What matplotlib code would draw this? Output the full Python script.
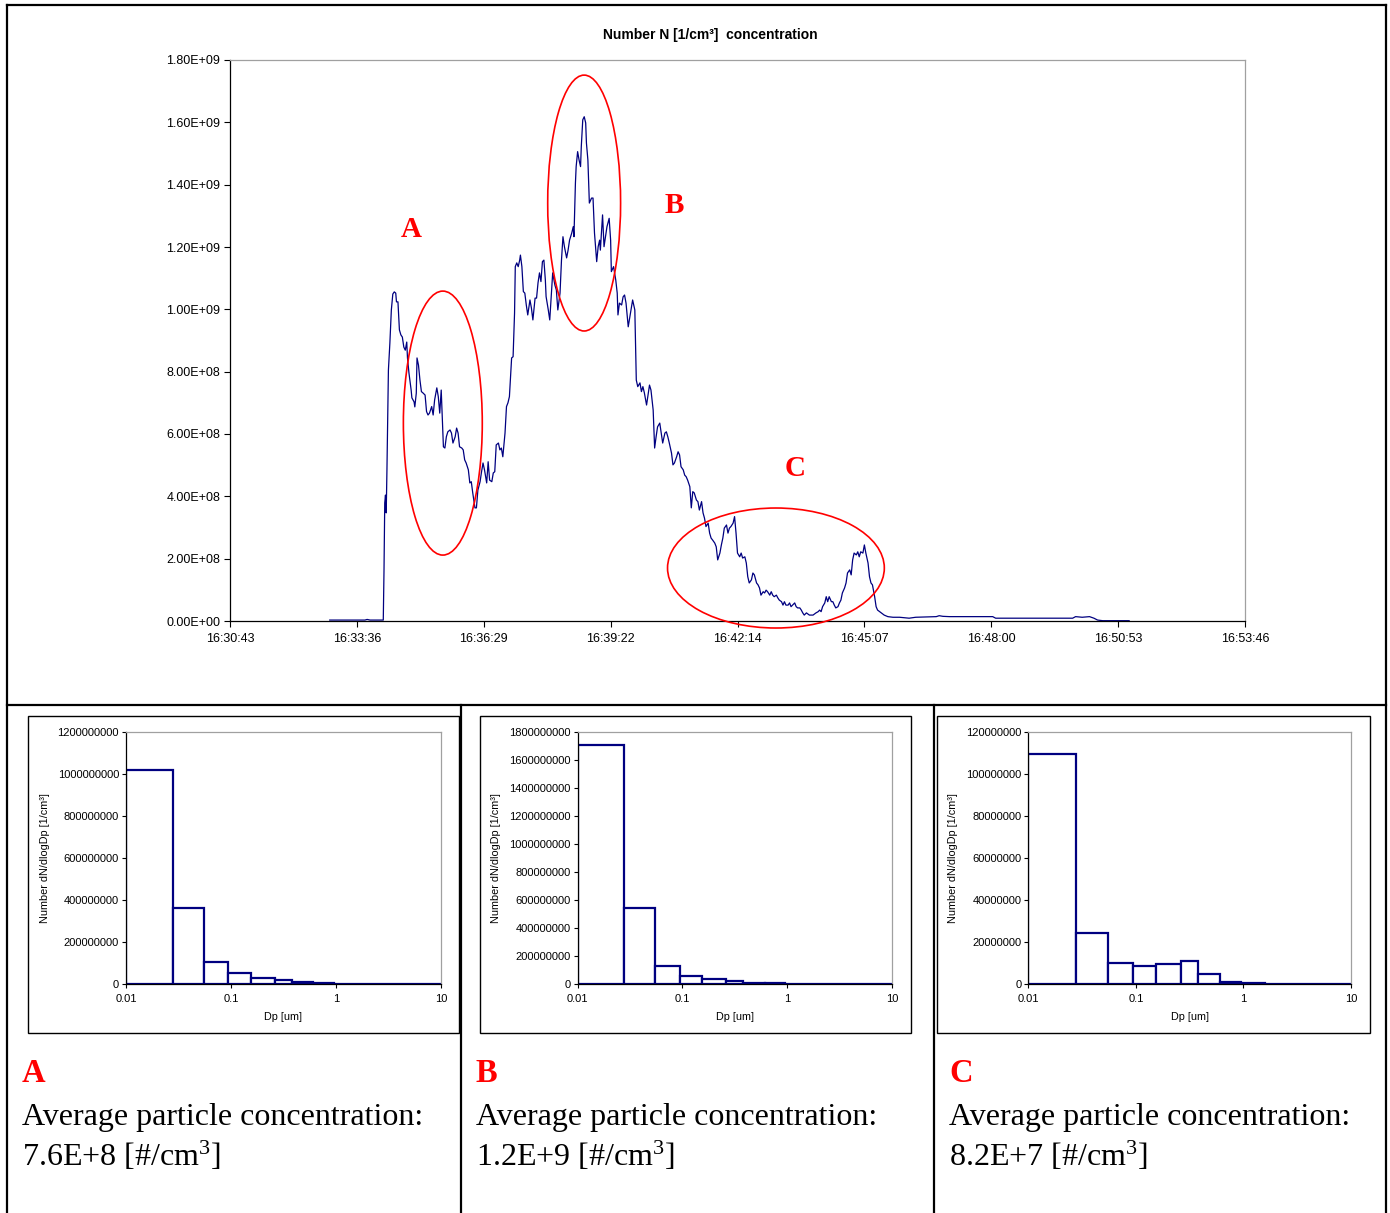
import matplotlib
matplotlib.use("Agg")
import matplotlib.pyplot as plt
import numpy as np
from matplotlib.patches import Ellipse, Rectangle
from matplotlib.lines import Line2D
from matplotlib.ticker import NullLocator

plt.rcParams['font.family'] = ['Liberation Sans', 'DejaVu Sans']
plt.rcParams['mathtext.fontset'] = 'custom'
plt.rcParams['mathtext.rm'] = 'Liberation Serif'
plt.rcParams['mathtext.it'] = 'Liberation Serif:italic'
plt.rcParams['mathtext.bf'] = 'Liberation Serif:bold'

# ---------------- data ----------------
# time in seconds after 16:30:43, concentration in units of 1E+08 1/cm3
time_s = [136, 177, 184, 187, 191, 207, 209, 210, 211, 212, 213, 214, 216, 218, 220, 222, 224, 226, 227, 229,
          231, 233, 235, 237, 239, 241, 242, 244, 247, 248, 251, 252, 254, 255, 257, 259, 261, 263, 266, 268,
          270, 272, 275, 277, 279, 282, 284, 286, 288, 291, 293, 295, 297, 300, 302, 304, 307, 309, 311, 313,
          316, 318, 320, 322, 325, 327, 329, 331, 334, 336, 338, 341, 343, 345, 347, 350, 352, 354, 357, 359,
          361, 363, 366, 368, 370, 372, 375, 377, 379, 381, 384, 386, 388, 389, 391, 393, 395, 396, 398, 400,
          402, 404, 406, 409, 411, 413, 416, 418, 420, 422, 424, 426, 428, 430, 431, 434, 436, 438, 440, 443,
          445, 447, 450, 452, 454, 456, 459, 461, 463, 466, 468, 469, 471, 472, 474, 476, 478, 479, 481, 483,
          485, 486, 488, 490, 493, 495, 497, 500, 502, 504, 505, 508, 510, 512, 514, 517, 519, 520, 523, 526,
          528, 529, 531, 534, 536, 538, 540, 543, 545, 547, 549, 552, 554, 556, 559, 561, 563, 565, 568, 570,
          572, 574, 577, 579, 581, 583, 586, 588, 590, 593, 595, 597, 599, 602, 604, 606, 609, 611, 613, 615,
          618, 620, 622, 624, 627, 629, 631, 633, 636, 638, 640, 643, 645, 647, 649, 652, 654, 656, 658, 661,
          663, 665, 668, 670, 672, 674, 677, 679, 681, 683, 686, 688, 690, 692, 695, 697, 699, 702, 704, 706,
          708, 711, 713, 715, 718, 720, 722, 724, 727, 729, 731, 733, 736, 738, 740, 742, 745, 747, 749, 752,
          754, 756, 758, 761, 763, 765, 767, 770, 772, 774, 777, 779, 781, 783, 786, 790, 795, 799, 802, 804,
          806, 808, 811, 813, 815, 817, 820, 822, 824, 826, 829, 831, 833, 835, 838, 840, 842, 845, 847, 849,
          851, 854, 856, 858, 860, 863, 865, 867, 870, 872, 874, 876, 879, 881, 883, 888, 892, 897, 904, 913,
          926, 935, 963, 967, 972, 981, 1040, 1044, 1149, 1153, 1162, 1172, 1178, 1183, 1190, 1226]
conc_e8 = [0.03, 0.03, 0.03, 0.05, 0.03, 0.03, 0.03, 1.64, 3.79, 4.04, 3.47, 4.85, 8.05, 8.92, 9.98, 10.49, 10.56, 10.52, 10.24, 10.24,
           9.34, 9.18, 9.11, 8.79, 8.69, 8.95, 8.44, 7.96, 7.41, 7.16, 7.03, 6.87, 7.31, 8.44, 8.21, 7.73, 7.36, 7.32, 7.25, 6.72,
           6.61, 6.67, 6.88, 6.61, 7.09, 7.48, 7.20, 6.67, 7.41, 5.59, 5.55, 5.91, 6.07, 6.13, 6.03, 5.71, 5.91, 6.19, 6.03, 5.59,
           5.55, 5.49, 5.17, 5.07, 4.85, 4.43, 4.47, 4.11, 3.63, 3.63, 4.20, 4.47, 4.79, 5.07, 4.85, 4.43, 5.11, 4.52, 4.47, 4.75,
           4.79, 5.65, 5.71, 5.49, 5.55, 5.27, 6.03, 6.88, 7.00, 7.20, 8.44, 8.48, 9.88, 11.37, 11.49, 11.37, 11.58, 11.74, 11.37, 10.57,
           10.52, 10.14, 9.82, 10.30, 10.04, 9.66, 10.36, 10.36, 10.85, 11.17, 10.89, 11.53, 11.58, 10.94, 10.41, 9.98, 9.66, 10.41, 11.17, 10.78,
           10.62, 9.98, 10.52, 11.58, 12.33, 12.01, 11.65, 11.90, 12.22, 12.45, 12.65, 12.33, 14.05, 14.58, 15.06, 14.79, 14.58, 15.22, 16.08, 16.18,
           15.98, 15.34, 14.79, 13.41, 13.57, 13.57, 12.45, 11.53, 12.01, 12.22, 11.90, 13.03, 12.01, 12.33, 12.65, 12.92, 12.22, 11.21, 11.37, 10.94,
           10.52, 9.82, 10.20, 10.14, 10.40, 10.46, 10.20, 9.44, 9.72, 9.98, 10.30, 9.98, 7.73, 7.52, 7.64, 7.36, 7.52, 7.32, 6.93, 7.25,
           7.57, 7.41, 6.77, 5.55, 5.91, 6.23, 6.35, 6.03, 5.71, 6.03, 6.07, 5.91, 5.71, 5.39, 5.01, 5.07, 5.27, 5.43, 5.33, 4.95,
           4.85, 4.68, 4.63, 4.52, 4.31, 3.63, 4.15, 4.11, 3.88, 3.83, 3.56, 3.83, 3.47, 3.30, 3.03, 3.14, 2.82, 2.66, 2.60, 2.50,
           2.38, 1.96, 2.18, 2.44, 2.66, 2.98, 3.08, 2.82, 2.98, 3.03, 3.14, 3.35, 2.82, 2.18, 2.06, 2.18, 2.02, 2.06, 1.86, 1.42,
           1.22, 1.32, 1.54, 1.48, 1.22, 1.16, 1.06, 0.83, 0.94, 0.90, 0.99, 0.94, 0.83, 0.94, 0.83, 0.78, 0.83, 0.74, 0.67, 0.62,
           0.51, 0.62, 0.51, 0.51, 0.58, 0.46, 0.51, 0.58, 0.46, 0.42, 0.42, 0.35, 0.26, 0.19, 0.26, 0.19, 0.19, 0.26, 0.30, 0.35,
           0.30, 0.46, 0.58, 0.78, 0.62, 0.78, 0.62, 0.62, 0.51, 0.42, 0.46, 0.58, 0.67, 0.90, 1.06, 1.22, 1.54, 1.64, 1.48, 1.96,
           2.18, 2.12, 2.22, 2.06, 2.22, 2.18, 2.44, 2.18, 1.86, 1.42, 1.22, 1.16, 0.78, 0.46, 0.35, 0.26, 0.19, 0.14, 0.12, 0.12,
           0.09, 0.12, 0.14, 0.17, 0.15, 0.14, 0.14, 0.09, 0.09, 0.14, 0.12, 0.14, 0.09, 0.03, 0.01, 0.01]

time_tick_labels = ["16:30:43", "16:33:36", "16:36:29", "16:39:22", "16:42:14",
                    "16:45:07", "16:48:00", "16:50:53", "16:53:46"]
tick_step_s = 173

# ELPI size bins (um) and dN/dlogDp for the three periods
bin_edges = [0.01, 0.028, 0.055, 0.094, 0.155, 0.26, 0.38, 0.61, 0.95, 1.6, 2.4, 4.0, 6.7, 10.0]
dist_A = [1.02e9, 3.62e8, 1.06e8, 5.3e7, 2.8e7, 1.8e7, 9e6, 5e6, 1.5e6, 5e5, 2e5, 1e5, 5e4]
dist_B = [1.71e9, 5.4e8, 1.31e8, 6.0e7, 3.3e7, 2.3e7, 1.0e7, 5e6, 1.5e6, 5e5, 2e5, 1e5, 5e4]
dist_C = [1.095e8, 2.43e7, 1.02e7, 8.6e6, 9.5e6, 1.1e7, 4.9e6, 1.1e6, 5e5, 1e5, 5e4, 2e4, 1e4]
ymax_A, ystep_A = 1.2e9, 2e8
ymax_B, ystep_B = 1.8e9, 2e8
ymax_C, ystep_C = 1.2e8, 2e7

period_labels = ["A", "B", "C"]
avg_conc = ["7.6E+8", "1.2E+9", "8.2E+7"]

# ---------------- figure ----------------
W, H = 1390, 1213
fig = plt.figure(figsize=(W / 100, H / 100), dpi=100)


def fx(px):
    return px / W


def fy(py):
    return 1 - py / H


NAVY = '#000080'
GRAY = '#a0a0a0'

# table borders
lw_tab = 1.6
for xs, ys in [([7, 1386], [5, 5]), ([7, 1386], [705, 705]),
               ([7, 7], [5, 1213]), ([1386, 1386], [5, 1213]),
               ([461, 461], [705, 1213]), ([934, 934], [705, 1213])]:
    fig.add_artist(Line2D([fx(x) for x in xs], [fy(y) for y in ys],
                          transform=fig.transFigure, color='black', lw=lw_tab))

# ---------------- main time series ----------------
ax = fig.add_axes([fx(230), fy(621), fx(1245) - fx(230), fy(60) - fy(621)])
t = np.array(time_s, dtype=float)
v = np.array(conc_e8) * 1e8
ax.plot(t, v, color=NAVY, lw=0.9)
ax.set_xlim(0, tick_step_s * (len(time_tick_labels) - 1))
ax.set_ylim(0, 1.8e9)
ax.set_xticks([i * tick_step_s for i in range(len(time_tick_labels))])
ax.set_xticklabels(time_tick_labels)
yt = np.arange(0, 1.8e9 + 1, 2e8)
ax.set_yticks(yt)
ax.set_yticklabels(["%.2E" % y for y in yt])
ax.tick_params(labelsize=9, length=4, width=0.8, direction='out', pad=3)
ax.tick_params(axis='x', pad=5)
for s in ['left', 'bottom']:
    ax.spines[s].set_color('black')
    ax.spines[s].set_linewidth(0.9)
for s in ['top', 'right']:
    ax.spines[s].set_color(GRAY)
    ax.spines[s].set_linewidth(0.9)

fig.text(fx(710), fy(35), 'Number N [1/cm³]  concentration', ha='center', va='center',
         fontsize=10, fontweight='bold')

# ellipses (data coordinates)
ell_specs = [(290.2, 6.35e8, 107.6, 8.47e8),
             (482.9, 13.41e8, 99.4, 8.21e8),
             (744.4, 1.70e8, 295.6, 3.85e8)]
for cx, cy, w, h in ell_specs:
    e = Ellipse((cx, cy), w, h, fill=False, edgecolor='#ff0000', lw=1.2, clip_on=False, zorder=5)
    ax.add_patch(e)

letter_pos = [(246.6, 12.32e8), (605.5, 13.09e8), (771.0, 4.65e8)]
for lab, (lx, ly) in zip(period_labels, letter_pos):
    ax.text(lx, ly, lab, color='#ff0000', fontsize=21, fontweight='bold',
            family='Liberation Serif', ha='center', va='baseline')

# ---------------- histograms ----------------
hist_specs = [
    (dist_A, ymax_A, ystep_A, (126, 441), (28, 459), -0.241, 22),
    (dist_B, ymax_B, ystep_B, (577.5, 892), (480, 910.5), -0.243, 476),
    (dist_C, ymax_C, ystep_C, (1028.3, 1351), (936.5, 1369.5), -0.219, 949),
]
edges = np.array(bin_edges)
for i, (dist, ymax, ystep, (xl, xr), (bl, br), ylab_x, tx) in enumerate(hist_specs):
    # chart frame
    fig.add_artist(Rectangle((fx(bl), fy(1033)), fx(br) - fx(bl), fy(716) - fy(1033),
                             transform=fig.transFigure, fill=False, edgecolor='black', lw=1.0))
    hx = fig.add_axes([fx(xl), fy(984), fx(xr) - fx(xl), fy(732) - fy(984)])
    hx.bar(edges[:-1], dist, width=np.diff(edges), align='edge', facecolor='white',
           edgecolor=NAVY, linewidth=1.6)
    hx.set_xscale('log')
    hx.set_xlim(0.01, 10)
    hx.set_ylim(0, ymax)
    hx.set_xticks([0.01, 0.1, 1, 10])
    hx.set_xticklabels(['0.01', '0.1', '1', '10'])
    hx.xaxis.set_minor_locator(NullLocator())
    yt = np.arange(0, ymax + 1, ystep)
    hx.set_yticks(yt)
    hx.set_yticklabels(["%d" % y for y in yt])
    hx.tick_params(labelsize=8, length=3, width=0.8, direction='out', pad=2)
    hx.tick_params(axis='x', pad=4)
    for s in ['left', 'bottom']:
        hx.spines[s].set_color('black')
        hx.spines[s].set_linewidth(0.9)
    for s in ['top', 'right']:
        hx.spines[s].set_color(GRAY)
        hx.spines[s].set_linewidth(0.9)
    hx.set_xlabel('Dp [um]', fontsize=7.8)
    hx.xaxis.set_label_coords(0.5, -0.111)
    hx.set_ylabel('Number dN/dlogDp [1/cm³]', fontsize=7.8)
    hx.yaxis.set_label_coords(ylab_x, 0.5)

    # captions
    fig.text(fx(tx), fy(1082), period_labels[i], color='#ff0000', fontsize=23.5,
             fontweight='bold', family='Liberation Serif', va='baseline', ha='left')
    fig.text(fx(tx), fy(1125), 'Average particle concentration:', fontsize=23,
             family='Liberation Serif', va='baseline', ha='left')
    fig.text(fx(tx), fy(1166), avg_conc[i] + ' [#/cm$^{3}$]', fontsize=23,
             family='Liberation Serif', va='baseline', ha='left')

fig.savefig('out.png', dpi=100)
